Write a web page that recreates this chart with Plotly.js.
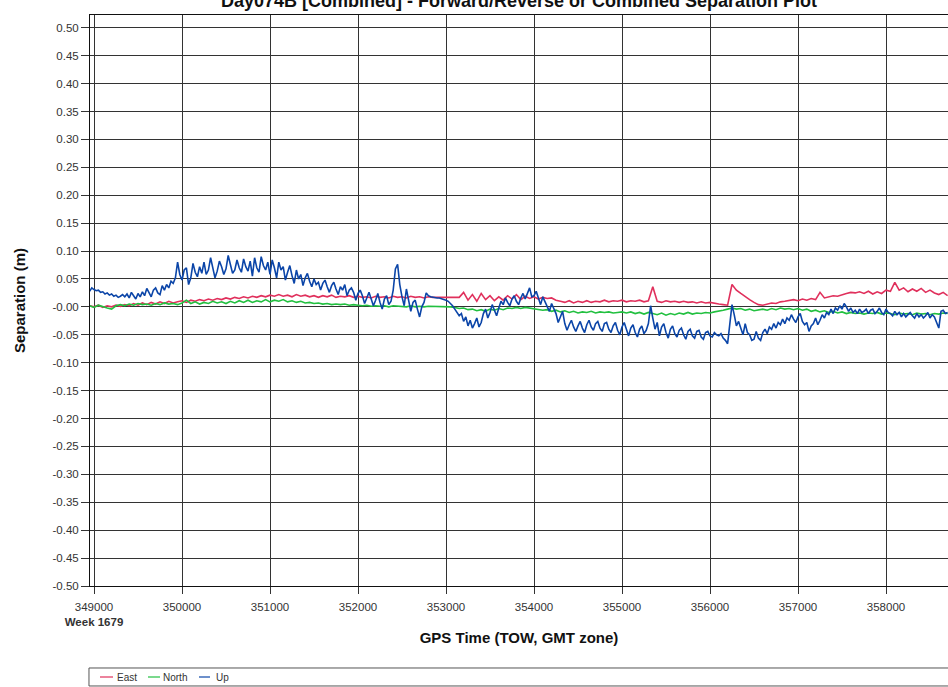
<!DOCTYPE html>
<html>
<head>
<meta charset="utf-8">
<script src="https://cdn.plot.ly/plotly-3.0.1.min.js"></script>
<style>
html,body{margin:0;padding:0;background:#fff;}
#chart{width:948px;height:687px;}
</style>
</head>
<body>
<div id="chart"></div>
<script>
// Sampling grids (GPS time of week, seconds)
const timeStart = 348950;
const enStep = 50;   // East / North sampling
const upStep = 25;   // Up sampling

const eastSep = [
0.002,0.000,0.003,-0.001,0.002,0.000,0.003,0.001,0.004,0.002,
0.006,0.003,0.007,0.004,0.008,0.005,0.009,0.006,0.010,0.007,
0.009,0.011,0.008,0.012,0.010,0.013,0.011,0.014,0.012,0.015,
0.013,0.016,0.014,0.017,0.015,0.018,0.016,0.019,0.017,0.020,
0.018,0.021,0.019,0.022,0.019,0.021,0.018,0.022,0.019,0.021,
0.018,0.020,0.017,0.020,0.018,0.021,0.017,0.019,0.018,0.020,
0.017,0.019,0.017,0.018,0.016,0.019,0.017,0.018,0.016,0.019,
0.017,0.018,0.016,0.019,0.017,0.018,0.016,0.018,0.017,0.017,
0.016,0.016,0.016,0.016,0.017,0.026,0.012,0.022,0.010,0.024,
0.013,0.020,0.011,0.018,0.012,0.020,0.014,0.022,0.013,0.019,
0.015,0.018,0.014,0.017,0.015,0.016,0.012,0.010,0.008,0.011,
0.007,0.010,0.008,0.011,0.008,0.010,0.009,0.012,0.009,0.011,
0.010,0.012,0.009,0.011,0.010,0.012,0.009,0.011,0.036,0.010,
0.008,0.011,0.009,0.010,0.008,0.010,0.008,0.009,0.007,0.009,
0.007,0.008,0.006,0.005,0.004,0.003,0.040,0.030,0.024,0.018,
0.013,0.008,0.004,0.003,0.005,0.007,0.006,0.009,0.010,0.012,
0.013,0.011,0.014,0.012,0.015,0.013,0.026,0.016,0.018,0.020,
0.019,0.022,0.024,0.026,0.025,0.027,0.024,0.028,0.023,0.027,
0.024,0.030,0.028,0.044,0.030,0.034,0.027,0.032,0.028,0.033,
0.026,0.030,0.025,0.022,0.026,0.020
];

const northSep = [
0.002,-0.001,0.003,0.000,-0.002,-0.004,0.002,0.004,0.002,0.005,
0.003,0.006,0.004,0.005,0.003,0.006,0.004,0.007,0.005,0.006,
0.004,0.007,0.012,0.006,0.009,0.005,0.008,0.006,0.010,0.007,
0.009,0.006,0.010,0.007,0.011,0.008,0.012,0.008,0.011,0.009,
0.013,0.009,0.012,0.010,0.013,0.009,0.011,0.008,0.010,0.007,
0.008,0.006,0.007,0.005,0.006,0.004,0.005,0.004,0.005,0.003,
0.004,0.003,0.002,0.003,0.001,0.002,0.001,0.002,0.000,0.002,
0.001,0.001,0.000,0.002,0.000,0.001,0.000,0.001,0.001,0.001,
0.000,0.000,0.000,-0.001,-0.003,-0.002,-0.005,-0.004,-0.007,-0.005,
-0.008,-0.004,-0.006,-0.003,-0.005,-0.002,-0.003,-0.001,-0.003,-0.001,
-0.002,-0.003,-0.004,-0.006,-0.005,-0.008,-0.006,-0.009,-0.007,-0.010,
-0.008,-0.011,-0.009,-0.010,-0.008,-0.011,-0.009,-0.010,-0.009,-0.011,
-0.010,-0.009,-0.011,-0.009,-0.012,-0.010,-0.013,-0.010,-0.012,-0.014,
-0.011,-0.015,-0.012,-0.014,-0.011,-0.013,-0.010,-0.013,-0.011,-0.012,
-0.010,-0.011,-0.009,-0.008,-0.006,-0.004,-0.002,-0.004,-0.003,-0.006,
-0.004,-0.007,-0.005,-0.004,-0.006,-0.003,-0.005,-0.002,-0.004,-0.003,
-0.005,-0.003,-0.006,-0.004,-0.008,-0.006,-0.009,-0.007,-0.010,-0.008,
-0.011,-0.009,-0.012,-0.010,-0.012,-0.011,-0.013,-0.011,-0.012,-0.010,
-0.013,-0.011,-0.012,-0.014,-0.011,-0.013,-0.012,-0.014,-0.011,-0.013,
-0.012,-0.014,-0.012,-0.013,-0.011,-0.012
];

const upSep = [
0.028,0.034,0.031,0.029,0.030,0.026,0.027,0.023,0.025,0.021,
0.023,0.019,0.021,0.017,0.019,0.022,0.018,0.023,0.016,0.026,
0.020,0.014,0.024,0.018,0.027,0.020,0.033,0.024,0.018,0.030,
0.034,0.025,0.022,0.038,0.030,0.040,0.034,0.046,0.042,0.052,
0.080,0.058,0.048,0.066,0.070,0.040,0.052,0.078,0.062,0.054,
0.072,0.060,0.080,0.058,0.066,0.088,0.070,0.052,0.064,0.082,
0.072,0.058,0.068,0.092,0.076,0.060,0.066,0.084,0.070,0.062,
0.086,0.072,0.064,0.082,0.055,0.088,0.070,0.062,0.090,0.074,
0.066,0.080,0.058,0.084,0.070,0.052,0.080,0.066,0.072,0.048,
0.062,0.074,0.056,0.042,0.066,0.050,0.058,0.038,0.052,0.060,
0.046,0.036,0.050,0.040,0.044,0.030,0.042,0.048,0.036,0.026,
0.038,0.044,0.032,0.022,0.036,0.030,0.040,0.020,0.030,0.034,
0.026,0.012,0.024,0.030,0.020,0.006,0.016,0.026,0.014,0.002,
0.012,0.024,0.008,-0.004,0.014,0.020,0.004,0.010,0.030,0.068,
0.076,0.040,0.018,0.002,0.032,0.010,-0.008,0.008,0.012,-0.004,
-0.018,0.000,0.008,0.025,0.020,0.018,0.017,0.017,0.016,0.016,
0.015,0.014,0.012,0.010,0.006,0.002,-0.004,-0.010,-0.016,-0.012,
-0.026,-0.018,-0.034,-0.024,-0.038,-0.030,-0.020,-0.036,-0.028,-0.012,
-0.004,-0.020,-0.010,0.004,-0.006,-0.016,-0.002,0.010,0.004,0.016,
0.008,0.002,0.014,0.020,0.010,0.004,0.016,0.024,0.014,0.026,
0.034,0.018,0.020,0.028,0.014,0.004,0.018,0.010,0.002,-0.008,
0.006,-0.002,-0.012,-0.028,-0.018,-0.008,-0.030,-0.042,-0.032,-0.024,
-0.036,-0.044,-0.034,-0.026,-0.038,-0.046,-0.032,-0.024,-0.036,-0.042,
-0.030,-0.026,-0.038,-0.044,-0.030,-0.028,-0.040,-0.046,-0.034,-0.028,
-0.042,-0.050,-0.036,-0.028,-0.040,-0.052,-0.038,-0.032,-0.046,-0.054,
-0.040,-0.034,-0.048,-0.042,-0.030,0.002,-0.020,-0.040,-0.028,-0.052,
-0.036,-0.030,-0.046,-0.056,-0.040,-0.034,-0.048,-0.054,-0.042,-0.038,
-0.050,-0.058,-0.044,-0.040,-0.052,-0.056,-0.044,-0.042,-0.054,-0.058,
-0.046,-0.044,-0.052,-0.054,-0.046,-0.050,-0.052,-0.048,-0.056,-0.060,
-0.066,-0.030,0.004,-0.014,-0.034,-0.026,-0.040,-0.050,-0.030,-0.046,
-0.050,-0.060,-0.058,-0.044,-0.056,-0.060,-0.046,-0.040,-0.048,-0.036,
-0.040,-0.030,-0.038,-0.028,-0.032,-0.022,-0.030,-0.020,-0.024,-0.014,
-0.022,-0.028,-0.018,-0.012,-0.026,-0.032,-0.028,-0.044,-0.034,-0.030,
-0.020,-0.032,-0.024,-0.014,-0.020,-0.010,-0.014,-0.004,-0.012,-0.002,
-0.006,0.002,-0.004,0.006,0.000,-0.008,-0.002,-0.010,-0.006,-0.012,
-0.004,-0.010,-0.008,-0.004,-0.012,-0.006,-0.004,-0.012,-0.008,-0.002,
-0.010,-0.014,-0.004,-0.010,-0.012,-0.016,-0.008,-0.014,-0.010,-0.018,
-0.012,-0.018,-0.014,-0.010,-0.016,-0.020,-0.012,-0.018,-0.014,-0.020,
-0.016,-0.010,-0.020,-0.014,-0.018,-0.030,-0.038,-0.008,-0.006,-0.012,
-0.010
];

const seriesNames = ['East','North','Up'];
const seriesColors = ['#e0305c','#22c040','#0b45a8'];

const xTickVals = [349000,350000,351000,352000,353000,354000,355000,356000,357000,358000];
const xTickText = ['349000<br><b>Week 1679</b>','350000','351000','352000','353000','354000','355000','356000','357000','358000'];
const yTickVals = [-0.50,-0.45,-0.40,-0.35,-0.30,-0.25,-0.20,-0.15,-0.10,-0.05,0.00,0.05,0.10,0.15,0.20,0.25,0.30,0.35,0.40,0.45,0.50];
const yTickText = ['-0.50','-0.45','-0.40','-0.35','-0.30','-0.25','-0.20','-0.15','-0.10','-0.05','-0.00','0.05','0.10','0.15','0.20','0.25','0.30','0.35','0.40','0.45','0.50'];

const enTimes = eastSep.map((_, i) => timeStart + i * enStep);
const upTimes = upSep.map((_, i) => timeStart + i * upStep);

const FONT = 'Liberation Sans, Arial, sans-serif';

const traces = [
  {name:seriesNames[0], x:enTimes, y:eastSep, type:'scatter', mode:'lines', line:{color:seriesColors[0], width:1.6}},
  {name:seriesNames[1], x:enTimes, y:northSep, type:'scatter', mode:'lines', line:{color:seriesColors[1], width:1.6}},
  {name:seriesNames[2], x:upTimes, y:upSep, type:'scatter', mode:'lines', line:{color:seriesColors[2], width:1.6}}
];

// Full-width legend strip below the plot (pixel offsets from the plot's lower-left corner)
const legendShapes = [
  {type:'rect', xref:'paper', yref:'paper', x0:-0.0012, x1:1.02, y0:-0.1751, y1:-0.1436,
   line:{color:'#555', width:1}, fillcolor:'rgba(0,0,0,0)'}
];
const legendAnnotations = [];
const legendLineX = [10, 58, 109];
const legendLineLen = [13, 12, 11];
const legendTextX = [25, 71, 124];
seriesNames.forEach((nm, k) => {
  legendShapes.push({type:'line', xref:'paper', yref:'paper', xsizemode:'pixel', ysizemode:'pixel',
    xanchor:0, yanchor:0, x0:legendLineX[k], x1:legendLineX[k] + legendLineLen[k], y0:-91, y1:-91,
    line:{color:seriesColors[k], width:1.2}});
  legendAnnotations.push({text:nm, xref:'paper', yref:'paper', x:0, y:0, xanchor:'left', yanchor:'middle',
    xshift:legendTextX[k], yshift:-91, showarrow:false, font:{family:FONT, size:10, color:'#333'}});
});

const layout = {
  width:948, height:687,
  margin:{l:90, r:0, t:15, b:101, pad:0},
  paper_bgcolor:'#fff', plot_bgcolor:'#fff',
  font:{family:FONT, color:'#333', size:11.5},
  showlegend:false,
  title:{text:'<b>Day074B [Combined] - Forward/Reverse or Combined Separation Plot</b>',
         font:{family:FONT, size:18, color:'#111'}, xref:'paper', x:0.5, xanchor:'center',
         yref:'container', y:0.9905, yanchor:'bottom'},
  xaxis:{range:[348954.5, 358704.5], tickmode:'array', tickvals:xTickVals, ticktext:xTickText,
         showgrid:true, gridcolor:'#333', gridwidth:1, zeroline:false,
         showline:true, linecolor:'#111', linewidth:1, mirror:true,
         ticks:'outside', ticklen:7, tickcolor:'#333', ticklabelstandoff:3,
         tickfont:{family:FONT, size:11.5, color:'#333'},
         title:{text:'<b>GPS Time (TOW, GMT zone)</b>', font:{family:FONT, size:15, color:'#111'}, standoff:5},
         automargin:false},
  yaxis:{range:[-0.5, 0.5228], tickmode:'array', tickvals:yTickVals, ticktext:yTickText,
         showgrid:true, gridcolor:'#333', gridwidth:1, zeroline:false,
         showline:true, linecolor:'#111', linewidth:1, mirror:true,
         ticks:'outside', ticklen:8, tickcolor:'#333', tickfont:{family:FONT, size:11.5, color:'#333'},
         title:{text:'<b>Separation (m)</b>', font:{family:FONT, size:15, color:'#111'}, standoff:23},
         automargin:false},
  shapes:legendShapes,
  annotations:legendAnnotations
};

Plotly.newPlot('chart', traces, layout, {displayModeBar:false, staticPlot:true});
</script>
</body>
</html>
